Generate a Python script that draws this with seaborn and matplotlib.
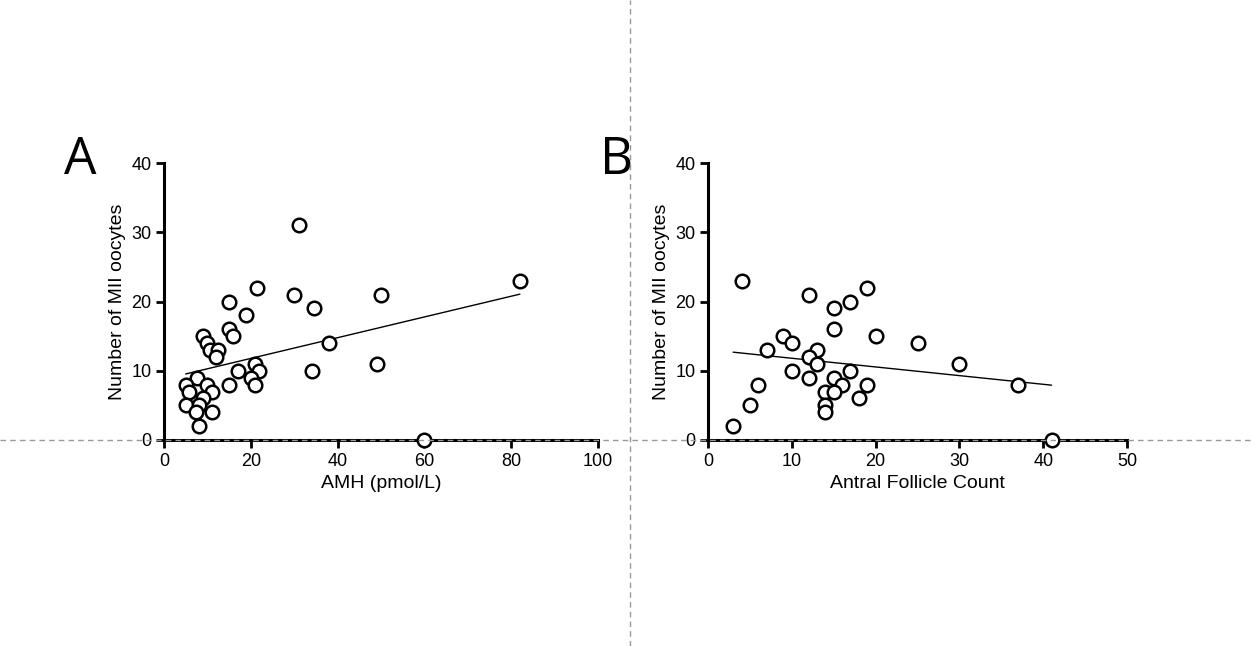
import numpy as np
import pandas as pd
import matplotlib
matplotlib.use('Agg')
import matplotlib.pyplot as plt
from matplotlib.lines import Line2D
import seaborn as sns

# Panel A: AMH vs MII oocytes
amh = [21.5, 30, 15, 19, 9, 10, 10.5, 12.5, 12, 15, 16, 21, 22, 17, 20, 21, 15, 7.5,
       5, 5.7, 10, 11, 9, 5, 8, 7.4, 11, 8, 31, 34.5, 50, 38, 34, 49, 82, 60]
mii_a = [22, 21, 20, 18, 15, 14, 13, 13, 12, 16, 15, 11, 10, 10, 9, 8, 8, 9,
         8, 7, 8, 7, 6, 5, 5, 4, 4, 2, 31, 19, 21, 14, 10, 11, 23, 0]

# Panel B: antral follicle count vs MII oocytes
afc = [4, 12, 17, 19, 15, 15, 20, 25, 9, 10, 7, 13, 12, 13, 10, 17, 12, 15, 16, 19,
       14, 15, 18, 6, 5, 14, 14, 3, 30, 37, 41]
mii_b = [23, 21, 20, 22, 19, 16, 15, 14, 15, 14, 13, 13, 12, 11, 10, 10, 9, 9, 8, 8,
         7, 7, 6, 8, 5, 5, 4, 2, 11, 8, 0]

df_a = pd.DataFrame({'x': amh, 'y': mii_a})
df_b = pd.DataFrame({'x': afc, 'y': mii_b})

sns.set_style('white')
plt.rcParams['font.family'] = ['Liberation Sans', 'DejaVu Sans']
plt.rcParams['text.color'] = 'black'
plt.rcParams['axes.labelcolor'] = 'black'
plt.rcParams['xtick.color'] = 'black'
plt.rcParams['ytick.color'] = 'black'

fig = plt.figure(figsize=(12.54, 6.46), dpi=100)
W, H = 1254, 646
ax_a = fig.add_axes([164 / W, 1 - 440 / H, (598 - 164) / W, (440 - 163) / H])
ax_b = fig.add_axes([708 / W, 1 - 440 / H, (1127 - 708) / W, (440 - 163) / H])

panels = [
    (ax_a, df_a, 'AMH (pmol/L)', 100, 20, 'A', 80),
    (ax_b, df_b, 'Antral Follicle Count', 50, 10, 'B', 617),
]

for ax, d, xlab, xmax, xstep, letter, lx in panels:
    sns.regplot(x='x', y='y', data=d, ax=ax, ci=None, truncate=True,
                scatter_kws=dict(s=95, facecolor='white', edgecolor='black',
                                 linewidths=1.8, zorder=3, clip_on=False, alpha=1),
                line_kws=dict(color='black', lw=1.0, zorder=2))
    ax.set_xlim(0, xmax)
    ax.set_ylim(0, 40)
    ax.set_xticks(np.arange(0, xmax + 1, xstep))
    ax.set_yticks([0, 10, 20, 30, 40])
    ax.set_xlabel(xlab, fontsize=14, labelpad=4)
    ax.set_ylabel('Number of MII oocytes', fontsize=14, labelpad=4)
    for side in ['top', 'right']:
        ax.spines[side].set_visible(False)
    for side in ['left', 'bottom']:
        ax.spines[side].set_linewidth(2.2)
        ax.spines[side].set_color('black')
    ax.tick_params(axis='both', direction='out', length=6, width=2.0,
                   labelsize=13, pad=3, bottom=True, left=True)
    ax.set_facecolor('none')
    fig.text(lx / W, 1 - 161 / H, letter, fontsize=37, family='Open Sans',
             ha='center', va='center')

# dashed guide lines across the figure
y0 = 1 - 440 / H
fig.add_artist(Line2D([0, 1], [y0, y0], transform=fig.transFigure,
                      color='#999999', lw=1.0, ls=(0, (4, 3)), zorder=10))
x0 = 630 / W
fig.add_artist(Line2D([x0, x0], [0, 1], transform=fig.transFigure,
                      color='#999999', lw=1.0, ls=(0, (4, 3)), zorder=10))

fig.savefig('out.png', dpi=100, facecolor='white')
